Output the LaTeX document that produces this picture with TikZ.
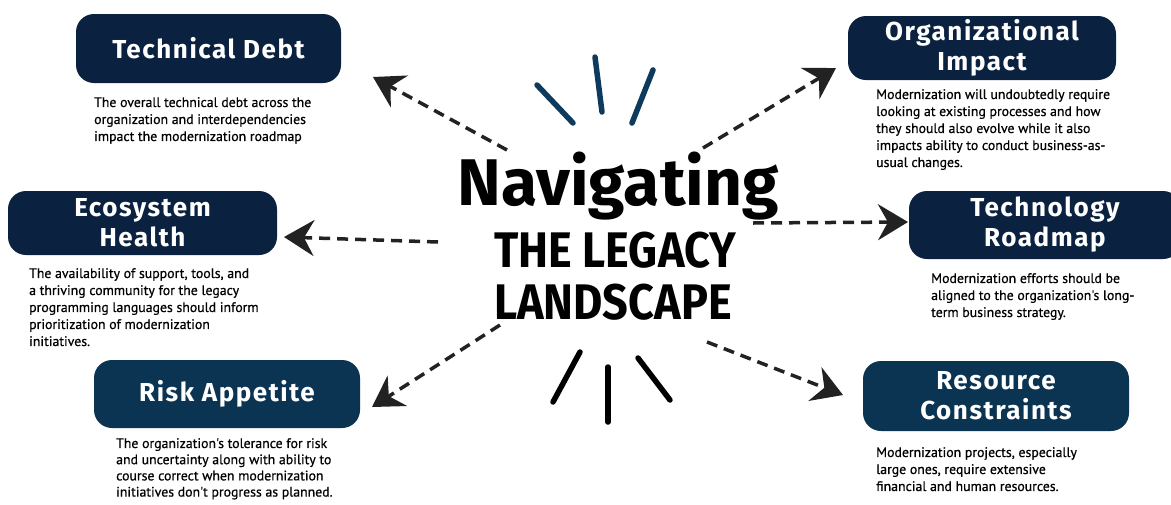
\documentclass[tikz,border=0pt]{standalone}
\usepackage{fontspec}
\setmainfont{Fira Sans}
\newfontfamily\bodyfont[FakeBold=0.6]{PT Sans}
\usetikzlibrary{arrows.meta}
\definecolor{navy}{HTML}{0A2140}
\definecolor{deepblue}{HTML}{0B3352}
\definecolor{raysblue}{HTML}{0E3A5E}
\definecolor{inkgray}{HTML}{222222}

\tikzset{
  topic/.style={rounded corners=18pt, fill=navy, text=white, align=center, inner sep=0pt,
    font=\bfseries\fontsize{26}{30}\addfontfeature{LetterSpace=6}\selectfont},
  blurb/.style={anchor=north west, align=left, inner sep=0pt,
    font=\bodyfont\fontsize{13.8}{17}\selectfont},
  pointer/.style={draw=inkgray, line width=3.5pt, dash pattern=on 11pt off 7pt,
    -{Stealth[length=30pt,width=36pt,inset=10pt]}},
  ray/.style={line width=5.5pt, line cap=round},
}

\begin{document}
\begin{tikzpicture}[x=1pt, y=-1pt]
  \useasboundingbox (0,0) rectangle (1171,504);
  % title
  \node[font=\bfseries\fontsize{66}{66}\selectfont] (navig) at (618,186) {Navigating};
  \node[font=\bfseries\fontsize{50}{50}\selectfont, xscale=0.9] (legacy) at (615,250) {THE LEGACY};
  \node[font=\bfseries\fontsize{50}{50}\selectfont, xscale=0.9] (landscape) at (613,302) {LANDSCAPE};

  % rays, top
  \draw[ray, raysblue] (537,85) -- (573,123);
  \draw[ray, raysblue] (595,57) -- (602,112);
  \draw[ray, raysblue] (653,70) -- (632,123);
  % rays, bottom
  \draw[ray, black] (580,352) -- (553,402);
  \draw[ray, black] (608,367) -- (608,422);
  \draw[ray, black] (638,358) -- (670,400);

  % topic boxes
  \node[topic, minimum width=265pt, minimum height=69pt] (techdebt) at (208.5,48.5) {Technical Debt};
  \node[topic, minimum width=268pt, minimum height=64pt] (orgimpact) at (982,48) {Organizational\\Impact};
  \node[topic, minimum width=269pt, minimum height=64pt] (ecohealth) at (142.5,223) {Ecosystem\\Health};
  \node[topic, minimum width=272pt, minimum height=68pt] (techroad) at (1045,225) {Technology\\Roadmap};
  \node[topic, fill=deepblue, minimum width=266pt, minimum height=68pt] (riskapp) at (227,394) {Risk Appetite};
  \node[topic, fill=deepblue, minimum width=266pt, minimum height=70pt] (rescons) at (996,396) {Resource\\Constraints};

  % descriptions
  \node[blurb] (techdebt-txt) at (94,97) {The overall technical debt across the\\organization and interdependencies\\impact the modernization roadmap};
  \node[blurb] (orgimpact-txt) at (876,89) {Modernization will undoubtedly require\\looking at existing processes and how\\they should also evolve while it also\\impacts ability to conduct business-as-\\usual changes.};
  \node[blurb] (ecohealth-txt) at (29,268) {The availability of support, tools, and\\a thriving community for the legacy\\programming languages should inform\\prioritization of modernization\\initiatives.};
  \node[blurb] (techroad-txt) at (931,273) {Modernization efforts should be\\aligned to the organization's long-\\term business strategy.};
  \node[blurb, font=\bodyfont\fontsize{13.8}{16.2}\selectfont] (riskapp-txt) at (116,438) {The organization's tolerance for risk\\and uncertainty along with ability to\\course correct when modernization\\initiatives don't progress as planned.};
  \node[blurb] (rescons-txt) at (876,447) {Modernization projects, especially\\large ones, require extensive\\financial and human resources.};

  % arrow ends
  \coordinate (a1) at (507,150);  \coordinate (b1) at (373,77);
  \coordinate (a2) at (703,148);  \coordinate (b2) at (836,68);
  \coordinate (a3) at (438,242);  \coordinate (b3) at (284,237);
  \coordinate (a4) at (753,223);  \coordinate (b4) at (908,222);
  \coordinate (a5) at (500,325);  \coordinate (b5) at (372,407);
  \coordinate (a6) at (707,342);  \coordinate (b6) at (843,395);
  \foreach \i in {1,...,6}
    \draw[pointer] (a\i) -- (b\i);
\end{tikzpicture}
\end{document}
